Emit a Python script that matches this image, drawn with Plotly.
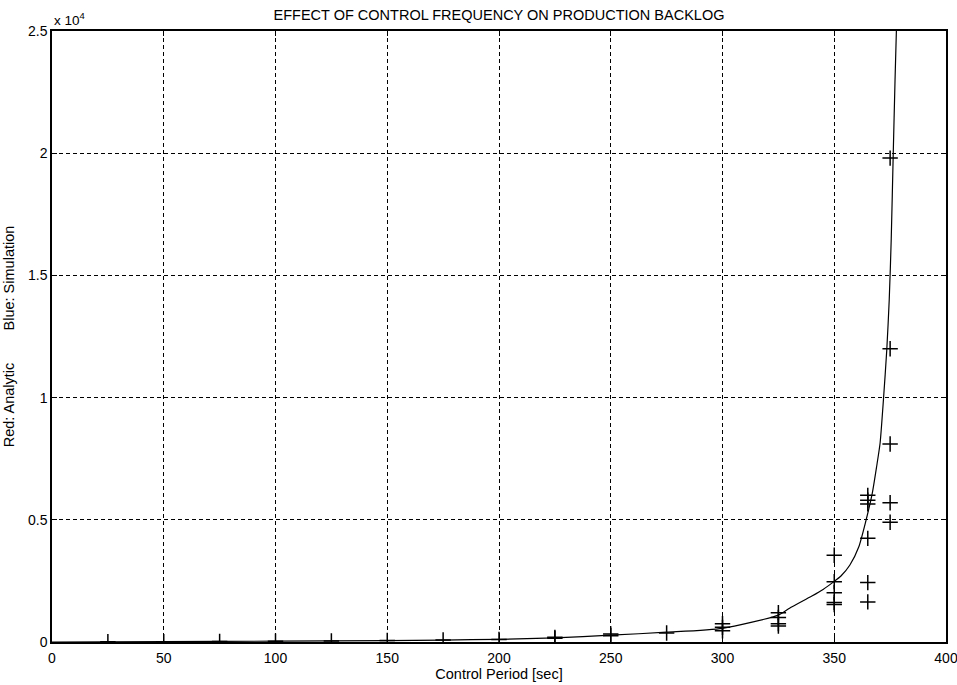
import plotly.graph_objects as go

# Analytic backlog curve (control period in sec, backlog in units)
curve_x = [0, 50, 100, 150, 175, 200, 225, 250, 275, 300, 325, 330, 340, 345,
           350, 353, 357, 361, 364, 367, 369, 370.5, 372, 373.5, 374.6, 375.5,
           376.4, 377.2, 377.8]
curve_y = [0, 15, 35, 60, 80, 110, 170, 280, 400, 560, 1100, 1380, 1880, 2150,
           2480, 2700, 3150, 3900, 4900, 6080, 7200, 8130, 9900, 11950, 14000,
           16500, 20000, 23000, 25000]

# Simulation runs
sim_x = [25, 50, 75, 100, 125, 150, 175, 200, 225, 225, 250, 250, 275,
         300, 300, 300, 325, 325, 325, 325,
         350, 350, 350, 350, 350,
         365, 365, 365, 365, 365, 365,
         375, 375, 375, 375, 375]
sim_y = [10, 15, 20, 30, 45, 60, 80, 100, 150, 190, 260, 330, 370,
         750, 600, 460, 1200, 1000, 750, 650,
         3550, 2470, 2020, 1620, 1530,
         6000, 5800, 5650, 4240, 2430, 1640,
         19800, 12000, 8100, 5700, 4900]

x_ticks = [0, 50, 100, 150, 200, 250, 300, 350, 400]
y_ticks = [0, 5000, 10000, 15000, 20000, 25000]
y_tick_text = ["0", "0.5", "1", "1.5", "2", "2.5"]

FONT = "Liberation Sans, Arial, Helvetica, sans-serif"

fig = go.Figure()
fig.add_trace(go.Scatter(
    x=curve_x, y=curve_y, mode="lines",
    line=dict(color="black", width=1.2, shape="spline", smoothing=0.6),
    hoverinfo="skip", showlegend=False,
))
fig.add_trace(go.Scatter(
    x=sim_x, y=sim_y, mode="markers",
    marker=dict(symbol="cross-thin", size=11,
                line=dict(color="black", width=1.5)),
    showlegend=False,
))

axis_common = dict(
    showline=True, linecolor="black", linewidth=1.5, mirror="ticks",
    ticks="inside", ticklen=5, tickwidth=1, tickcolor="black",
    showgrid=True, gridcolor="black", gridwidth=1, griddash="4px,3px",
    zeroline=False, automargin=False, ticklabeloverflow="allow",
    tickfont=dict(family=FONT, size=14, color="black"),
)

fig.update_xaxes(
    range=[0, 400], tickvals=x_ticks, ticktext=[str(v) for v in x_ticks],
    ticklabelstandoff=2,
    title=dict(text="Control Period [sec]", standoff=4,
               font=dict(family=FONT, size=14.5, color="black")),
    **axis_common,
)
fig.update_yaxes(
    range=[0, 25000], tickvals=y_ticks, ticktext=y_tick_text,
    title=dict(text="Red: Analytic" + "\u00a0" * 8 + "Blue: Simulation",
               standoff=10,
               font=dict(family=FONT, size=14.5, color="black")),
    **axis_common,
)

fig.add_annotation(
    x=0, y=1, xref="paper", yref="paper", xanchor="left", yanchor="bottom",
    text="x 10<sup>4</sup>", showarrow=False, xshift=0, yshift=1,
    font=dict(family=FONT, size=13.5, color="black"),
)

fig.update_layout(
    width=957, height=685,
    margin=dict(l=52, r=11, t=31, b=43),
    paper_bgcolor="white", plot_bgcolor="white",
    title=dict(text="EFFECT OF CONTROL FREQUENCY ON PRODUCTION BACKLOG",
               x=0.5, xref="paper", xanchor="center",
               y=1 - 15 / 685, yref="container", yanchor="middle",
               font=dict(family=FONT, size=14.5, color="black")),
)

fig.write_html("out.html")
